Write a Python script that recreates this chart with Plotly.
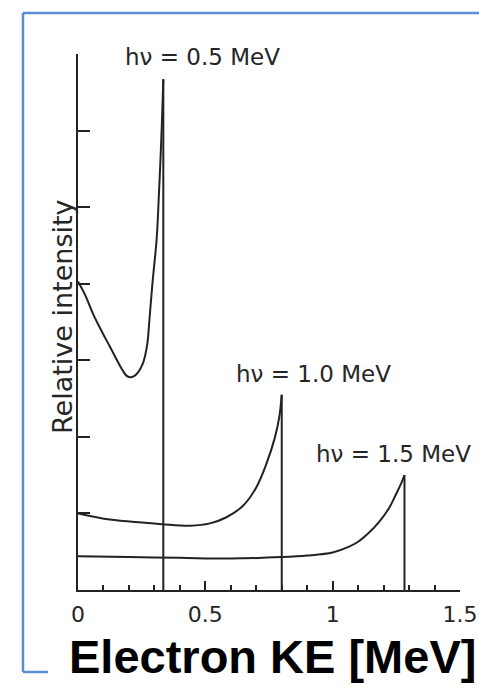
import plotly.graph_objects as go

# Compton-scattered electron spectra for three photon energies
ke_05 = [0.0, 0.027, 0.06, 0.093, 0.125, 0.158, 0.175, 0.19, 0.204, 0.218, 0.235,
         0.256, 0.272, 0.28, 0.293, 0.309, 0.318, 0.324, 0.329, 0.333, 0.335]
int_05 = [4.03, 3.86, 3.60, 3.38, 3.18, 2.97, 2.87, 2.80, 2.78, 2.79, 2.84,
          2.97, 3.21, 3.51, 4.03, 4.59, 5.19, 5.63, 6.06, 6.45, 6.67]

ke_10 = [0.0, 0.125, 0.25, 0.33, 0.44, 0.518, 0.583, 0.648, 0.70, 0.74, 0.773,
         0.79, 0.80]
int_10 = [1.00, 0.92, 0.88, 0.86, 0.84, 0.87, 0.95, 1.10, 1.34, 1.65, 1.99,
          2.25, 2.55]

ke_15 = [0.0, 0.2, 0.4, 0.6, 0.8, 0.9, 1.0, 1.06, 1.10, 1.14, 1.18, 1.22,
         1.25, 1.27, 1.282]
int_15 = [0.44, 0.43, 0.42, 0.41, 0.43, 0.45, 0.49, 0.56, 0.63, 0.74, 0.88,
          1.06, 1.26, 1.40, 1.50]

photon_labels = ["hν = 0.5 MeV", "hν = 1.0 MeV", "hν = 1.5 MeV"]
label_x = [0.49, 0.925, 1.24]
label_y = [6.96, 2.82, 1.78]

x_ticks = [0, 0.5, 1, 1.5]
x_ticktext = ["0", "0.5", "1", "1.5"]

W, H = 479, 692
ML, MR, MT, MB = 78, 19, 54, 102
PW, PH = W - ML - MR, H - MT - MB

INK = "#222222"
TXT = "#262626"
BLUE = "#5b8fd3"
FONT = "DejaVu Sans"


def px(x):
    """page pixel column -> paper fraction (relative to the plot area)"""
    return (x - ML) / PW


def py(y):
    """page pixel row -> paper fraction (relative to the plot area)"""
    return (H - MB - y) / PH


fig = go.Figure()

for xs, ys in [(ke_05, int_05), (ke_10, int_10), (ke_15, int_15)]:
    fig.add_trace(go.Scatter(x=xs, y=ys, mode="lines",
                             line=dict(color=INK, width=2, shape="spline", smoothing=1.0),
                             hoverinfo="skip", showlegend=False))
    # Compton edge: drop from the peak to the axis
    fig.add_trace(go.Scatter(x=[xs[-1], xs[-1]], y=[ys[-1], 0], mode="lines",
                             line=dict(color=INK, width=2),
                             hoverinfo="skip", showlegend=False))

for txt, lx, ly in zip(photon_labels, label_x, label_y):
    fig.add_annotation(x=lx, y=ly, xref="x", yref="y", text=txt, showarrow=False,
                       xanchor="center", yanchor="middle",
                       font=dict(family=FONT, size=23, color=TXT))

fig.add_annotation(x=px(63), y=py(317), xref="paper", yref="paper",
                   text="Relative intensity", textangle=-90, showarrow=False,
                   xanchor="center", yanchor="middle",
                   font=dict(family=FONT, size=27, color=TXT))

# frame lines around the figure
frame = dict(type="line", xref="paper", yref="paper", line=dict(color=BLUE, width=2.5))
fig.add_shape(x0=px(23), x1=px(W + 10), y0=py(13), y1=py(13), **frame)
fig.add_shape(x0=px(23), x1=px(23), y0=py(13), y1=py(672), **frame)
fig.add_shape(x0=px(23), x1=px(48), y0=py(672), y1=py(672), **frame)

fig.add_annotation(x=px(272), y=py(656), xref="paper", yref="paper",
                   text="<b>Electron KE [MeV]</b>", showarrow=False,
                   xanchor="center", yanchor="middle",
                   font=dict(family="Liberation Sans", size=47, color="#000000"))

fig.update_xaxes(range=[0, 1.5], showline=True, linecolor=INK, linewidth=2,
                 showgrid=False, zeroline=False, automargin=False,
                 tickmode="array", tickvals=x_ticks, ticktext=x_ticktext,
                 ticks="inside", ticklen=9, tickwidth=2, tickcolor=INK,
                 ticklabelstandoff=4, ticklabeloverflow="allow",
                 tickfont=dict(family=FONT, size=22, color=TXT),
                 minor=dict(tickmode="linear", tick0=0, dtick=0.1, ticks="inside",
                            ticklen=5, tickwidth=1.5, tickcolor=INK, showgrid=False))
fig.update_yaxes(range=[0, 7], showline=True, linecolor=INK, linewidth=2,
                 showgrid=False, zeroline=False, showticklabels=False,
                 automargin=False, tickmode="linear", tick0=0, dtick=1,
                 ticks="inside", ticklen=12, tickwidth=2, tickcolor=INK)

fig.update_layout(width=W, height=H, autosize=False,
                  margin=dict(l=ML, r=MR, t=MT, b=MB, pad=0),
                  paper_bgcolor="white", plot_bgcolor="white")

fig.write_html("out.html")
